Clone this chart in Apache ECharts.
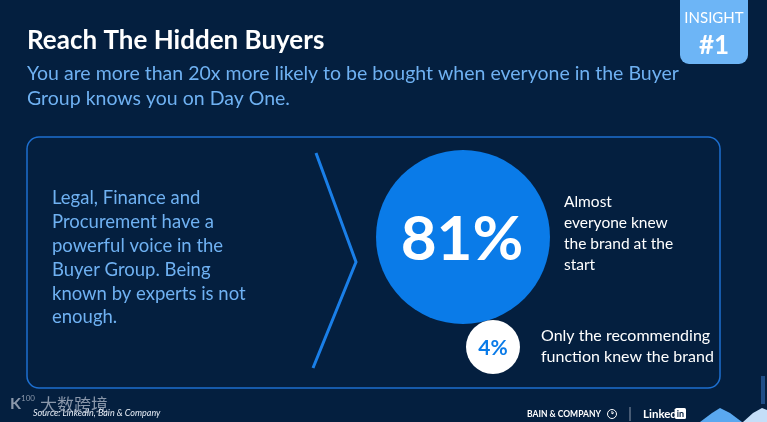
<!DOCTYPE html>
<html>
<head>
<meta charset="utf-8">
<script src="https://cdn.jsdelivr.net/npm/echarts@6/dist/echarts.min.js"></script>
<style>
html,body{margin:0;padding:0;background:#041f3f;}
#chart{width:767px;height:422px;}
</style>
</head>
<body>
<div id="chart"></div>
<script>
// ---- content ----
const title = 'Reach The Hidden Buyers';
const subtitleLines = ['You are more than 20x more likely to be bought when everyone in the Buyer', 'Group knows you on Day One.'];
const leftTextLines = ['Legal, Finance and', 'Procurement have a', 'powerful voice in the', 'Buyer Group. Being', 'known by experts is not', 'enough.'];
const statValues = [81, 4];
const statLabels = [
  ['Almost', 'everyone knew', 'the brand at the', 'start'],
  ['Only the recommending', 'function knew the brand']
];
const badgeTop = 'INSIGHT';
const badgeBottom = '#1';
const sourceText = 'Source: LinkedIn, Bain & Company';

const FONT = 'Lato';
const chart = echarts.init(document.getElementById('chart'));

const g = [];
// background
g.push({type:'rect', shape:{x:0,y:0,width:767,height:422}, style:{fill:'#041f3f'}, z:0});
// title
g.push({type:'text', left:27, top:28, style:{text:title, fill:'#ffffff', font:'bold 26px ' + FONT}});
subtitleLines.forEach((t,i)=>{
  g.push({type:'text', left:27, top:64 + i*25, style:{text:t, fill:'#6fb1f2', font:'19.5px ' + FONT}});
});
// badge
g.push({type:'rect', shape:{x:680,y:-10,width:68,height:74,r:[0,0,9,9]}, style:{fill:'#6db5f6'}});
g.push({type:'text', x:714, y:18, style:{text:badgeTop, fill:'#ffffff', font:'15px ' + FONT, align:'center', verticalAlign:'middle'}});
g.push({type:'text', x:714, y:46, style:{text:badgeBottom, fill:'#ffffff', font:'bold 26px ' + FONT, align:'center', verticalAlign:'middle'}});
// main box
g.push({type:'rect', shape:{x:27,y:137,width:693,height:251,r:12}, style:{fill:'none', stroke:'#1d6fd0', lineWidth:1.5}});
// chevron
g.push({type:'polyline', shape:{points:[[316,153],[356,262],[313,368]]}, style:{stroke:'#1a7fe8', lineWidth:3, fill:'none'}});
// left text
leftTextLines.forEach((t,i)=>{
  g.push({type:'text', left:52, top:189 + i*23.8, style:{text:t, fill:'#6fb1f2', font:'18.5px ' + FONT}});
});
// big circle
g.push({type:'circle', shape:{cx:463,cy:237,r:87}, style:{fill:'#0a7be8'}});
g.push({type:'text', x:462, y:240, style:{text:statValues[0] + '%', fill:'#ffffff', font:'bold 62px ' + FONT, align:'center', verticalAlign:'middle'}});
statLabels[0].forEach((t,i)=>{
  g.push({type:'text', left:564, top:194 + i*21, style:{text:t, fill:'#ffffff', font:'15.5px ' + FONT}});
});
// small circle
g.push({type:'circle', shape:{cx:493,cy:347,r:27}, style:{fill:'#ffffff'}});
g.push({type:'text', x:493, y:348, style:{text:statValues[1] + '%', fill:'#0a7be8', font:'bold 21px ' + FONT, align:'center', verticalAlign:'middle'}});
statLabels[1].forEach((t,i)=>{
  g.push({type:'text', left:541, top:328 + i*21, style:{text:t, fill:'#ffffff', font:'16px ' + FONT}});
});
// footer
g.push({type:'text', left:10, top:396, style:{text:'K', fill:'#8a97aa', font:'bold 16px ' + FONT}});
g.push({type:'text', left:21, top:394, style:{text:'100', fill:'#8a97aa', font:'8px ' + FONT}});
g.push({type:'text', left:40, top:396, style:{text:'大数跨境', fill:'#8a97aa', font:'17px "Noto Sans CJK SC"'}});
g.push({type:'text', left:33, top:409, style:{text:sourceText, fill:'#e6ecf5', font:'italic 9px ' + FONT}});
g.push({type:'text', left:527, top:410, style:{text:'BAIN & COMPANY', fill:'#ffffff', font:'bold 8.5px ' + FONT}});
g.push({type:'circle', shape:{cx:612,cy:414,r:4.5}, style:{fill:'none', stroke:'#ffffff', lineWidth:1}});
g.push({type:'polyline', shape:{points:[[612,411],[612,414],[614,412.5]]}, style:{stroke:'#ffffff', lineWidth:1, fill:'none'}});
g.push({type:'line', shape:{x1:630,y1:407,x2:630,y2:421}, style:{stroke:'#8a97aa', lineWidth:1}});
g.push({type:'text', left:643, top:408, style:{text:'Linked', fill:'#ffffff', font:'bold 11.5px ' + FONT}});
g.push({type:'rect', shape:{x:675,y:408,width:11,height:11,r:1.5}, style:{fill:'#ffffff'}});
g.push({type:'text', x:680.5, y:414, style:{text:'in', fill:'#041f3f', font:'bold 9px ' + FONT, align:'center', verticalAlign:'middle'}});
// corner shapes
g.push({type:'polygon', shape:{points:[[700,422],[712,413],[720,408],[730,413],[742,422]]}, style:{fill:'#5aa8f0'}});
g.push({type:'polygon', shape:{points:[[743,422],[753,413],[762,408],[767,410],[767,422]]}, style:{fill:'#c5def8'}});
g.push({type:'rect', shape:{x:761,y:376,width:4,height:28}, style:{fill:'#1f4d86'}});

chart.setOption({
  backgroundColor:'#041f3f',
  animation:false,
  graphic:{elements:g}
});
</script>
</body>
</html>
